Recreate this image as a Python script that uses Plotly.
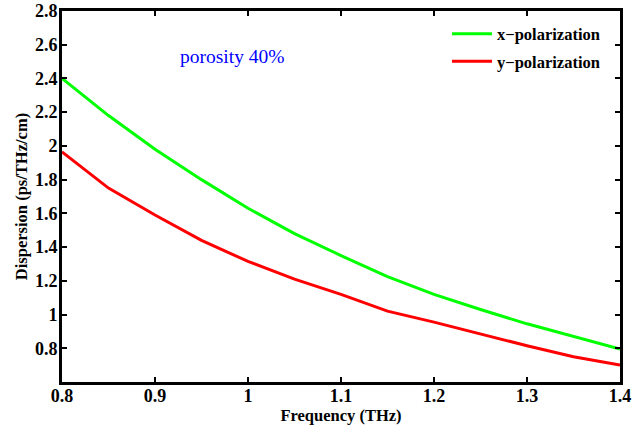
import plotly.graph_objects as go

freq = [0.8, 0.85, 0.9, 0.95, 1.0, 1.05, 1.1, 1.15, 1.2, 1.25, 1.3, 1.35, 1.4]
x_pol = [2.40, 2.18, 1.98, 1.80, 1.63, 1.48, 1.35, 1.225, 1.12, 1.03, 0.945, 0.87, 0.795]
y_pol = [1.965, 1.75, 1.59, 1.44, 1.315, 1.21, 1.12, 1.02, 0.955, 0.885, 0.815, 0.75, 0.70]
series_names = ["x\u2212polarization", "y\u2212polarization"]
x_ticks = [0.8, 0.9, 1.0, 1.1, 1.2, 1.3, 1.4]
x_ticklabels = ["0.8", "0.9", "1", "1.1", "1.2", "1.3", "1.4"]
y_ticks = [0.8, 1.0, 1.2, 1.4, 1.6, 1.8, 2.0, 2.2, 2.4, 2.6, 2.8]
y_ticklabels = ["0.8", "1", "1.2", "1.4", "1.6", "1.8", "2", "2.2", "2.4", "2.6", "2.8"]

FONT = "Liberation Serif, Times New Roman, serif"

fig = go.Figure()
fig.add_trace(go.Scatter(x=freq, y=x_pol, mode="lines", name=series_names[0],
                         line=dict(color="#00ff00", width=3), legendgroup="a"))
fig.add_trace(go.Scatter(x=freq, y=y_pol, mode="lines", name=series_names[1],
                         line=dict(color="#ff0000", width=3), legendgroup="b"))

axis_common = dict(showgrid=False, zeroline=False, showline=True, linecolor="black",
                   linewidth=3, mirror="ticks", ticks="inside", ticklen=5, tickwidth=2,
                   tickcolor="black", automargin=False,
                   tickfont=dict(family=FONT, size=18, color="black", weight="bold"))

fig.update_xaxes(range=[0.8, 1.4], tickvals=x_ticks, ticktext=x_ticklabels, ticklabelstandoff=-5,
                 title=dict(text="<b>Frequency (THz)</b>", font=dict(family=FONT, size=16.5, color="black"), standoff=0),
                 **axis_common)
fig.update_yaxes(range=[0.6, 2.8], tickvals=y_ticks, ticktext=y_ticklabels, ticklabelstandoff=-2,
                 title=dict(text="<b>Dispersion (ps/THz/cm)</b>", font=dict(family=FONT, size=16.5, color="black"), standoff=4),
                 **axis_common)

fig.add_annotation(x=0.983, y=2.53, xref="x", yref="y", text="porosity 40%",
                   showarrow=False, font=dict(family=FONT, size=19.5, color="blue"))

fig.update_layout(
    width=642, height=428,
    margin=dict(l=62, r=22, t=11, b=46),
    paper_bgcolor="white", plot_bgcolor="white",
    showlegend=True,
    legend=dict(x=0.69, y=0.985, xanchor="left", yanchor="top", bgcolor="rgba(0,0,0,0)",
                font=dict(family=FONT, size=16.5, color="black", weight="bold"),
                tracegroupgap=3, itemwidth=40),
)

fig.write_html("out.html", config={"displayModeBar": False},
               post_script="document.body.style.margin='0';")
